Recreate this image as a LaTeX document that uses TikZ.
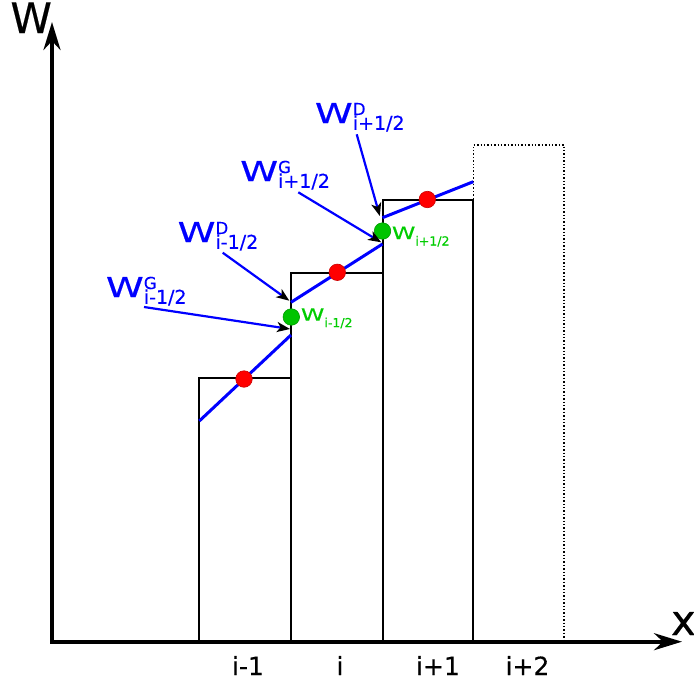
\documentclass[tikz,border=0pt]{standalone}
\usepackage{fontspec}
\setmainfont{DejaVu Sans}[FakeBold=0.35]
\usetikzlibrary{arrows.meta}
\definecolor{lblue}{RGB}{0,0,255}
\definecolor{lgreen}{RGB}{0,204,0}
\definecolor{dgreen}{RGB}{0,196,0}
\newcommand\wlbl[2]{\fontsize{27.4}{30}\selectfont\scalebox{1.4}[1]{W}\rlap{\raisebox{8pt}{\fontsize{16.5}{18}\selectfont #1}}\raisebox{-6.8pt}{\fontsize{19}{21}\selectfont #2}}
\newcommand\wgr[1]{\fontsize{17}{20}\selectfont\scalebox{1.4}[1]{W}\raisebox{-6.5pt}{\fontsize{12.5}{14}\selectfont #1}}
\begin{document}
\begin{tikzpicture}[x=1pt,y=-1pt,
  axis/.style={line width=3.8pt, line join=miter, {Stealth[length=28pt,width=17pt,inset=9pt]}-{Stealth[length=28pt,width=17pt,inset=9pt]}},
  cell/.style={line width=2pt},
  ghost/.style={line width=1.4pt, dotted},
  recon/.style={draw=lblue, line width=3pt},
  ptr/.style={draw=lblue, line width=2.2pt, -{Stealth[length=13pt,width=10pt,inset=3.5pt,black]}},
  lbl/.style={anchor=base west, inner sep=0pt, text=lblue},
  glbl/.style={anchor=base west, inner sep=0pt, text=lgreen},
  mean/.style={circle, fill=red, draw=red!80!black, line width=0.6pt, minimum size=16.5pt, inner sep=0pt},
  face/.style={circle, fill=dgreen, draw=dgreen!80!black, line width=0.6pt, minimum size=16.5pt, inner sep=0pt},
  tick/.style={anchor=base, inner sep=0pt, font=\fontsize{25}{28}\selectfont},
  axlbl/.style={anchor=base west, inner sep=0pt, font=\fontsize{42}{46}\selectfont}]
\useasboundingbox (0,0) rectangle (694,683);

% axes
\coordinate (O) at (52,641.7);
\coordinate (ytip) at (52,22);
\coordinate (xtip) at (682,641.7);
\draw[axis] (ytip) -- (O) -- (xtip);
\node[axlbl] (wlab) at (10.2,33) {W};
\node[axlbl] (xlab) at (670.8,635) {x};

% cells
\draw[cell] (199.3,641) rectangle (291,378.3);
\draw[cell] (291,641) rectangle (382.5,272.5);
\draw[cell] (382.5,641) rectangle (473.3,199.5);
\draw[ghost] (473.3,641) rectangle (564,145);

% reconstructions
\coordinate (r1a) at (199.3,421);
\coordinate (r1b) at (291,335);
\coordinate (r2a) at (291,302.3);
\coordinate (r2b) at (382.5,244);
\coordinate (r3a) at (382.5,217.7);
\coordinate (r3b) at (473.3,181.7);
\draw[recon] (r1a) -- (r1b);
\draw[recon] (r2a) -- (r2b);
\draw[recon] (r3a) -- (r3b);

% dots
\node[mean] (m1) at (244,379) {};
\node[mean] (m2) at (337.3,272.3) {};
\node[mean] (m3) at (427.3,199.5) {};
\node[face] (f1) at (291.3,317) {};
\node[face] (f2) at (382.5,231) {};

% green labels
\node[glbl] (g1) at (300.7,320.7) {\wgr{i-1/2}};
\node[glbl] (g2) at (391.7,239) {\wgr{i+1/2}};

% blue labels
\node[lbl] (L1) at (105.7,297) {\wlbl{G}{i-1/2}};
\node[lbl] (L2) at (177.4,242) {\wlbl{D}{i-1/2}};
\node[lbl] (L3) at (240,181) {\wlbl{G}{i+1/2}};
\node[lbl] (L4) at (314.7,123) {\wlbl{D}{i+1/2}};

% pointers
\coordinate (p1s) at (144,307);   \coordinate (p1e) at (290,329);
\coordinate (p2s) at (222.7,252.7); \coordinate (p2e) at (289.3,300.7);
\coordinate (p3s) at (298.3,192.3); \coordinate (p3e) at (381.2,242.3);
\coordinate (p4s) at (356.7,134.3); \coordinate (p4e) at (379.8,216);
\draw[ptr] (p1s) -- (p1e);
\draw[ptr] (p2s) -- (p2e);
\draw[ptr] (p3s) -- (p3e);
\draw[ptr] (p4s) -- (p4e);

% tick labels
\node[tick] (t1) at (248,675) {i-1};
\node[tick] (t2) at (340,675) {i};
\node[tick] (t3) at (438,675) {i+1};
\node[tick] (t4) at (527.5,675) {i+2};
\end{tikzpicture}
\end{document}
